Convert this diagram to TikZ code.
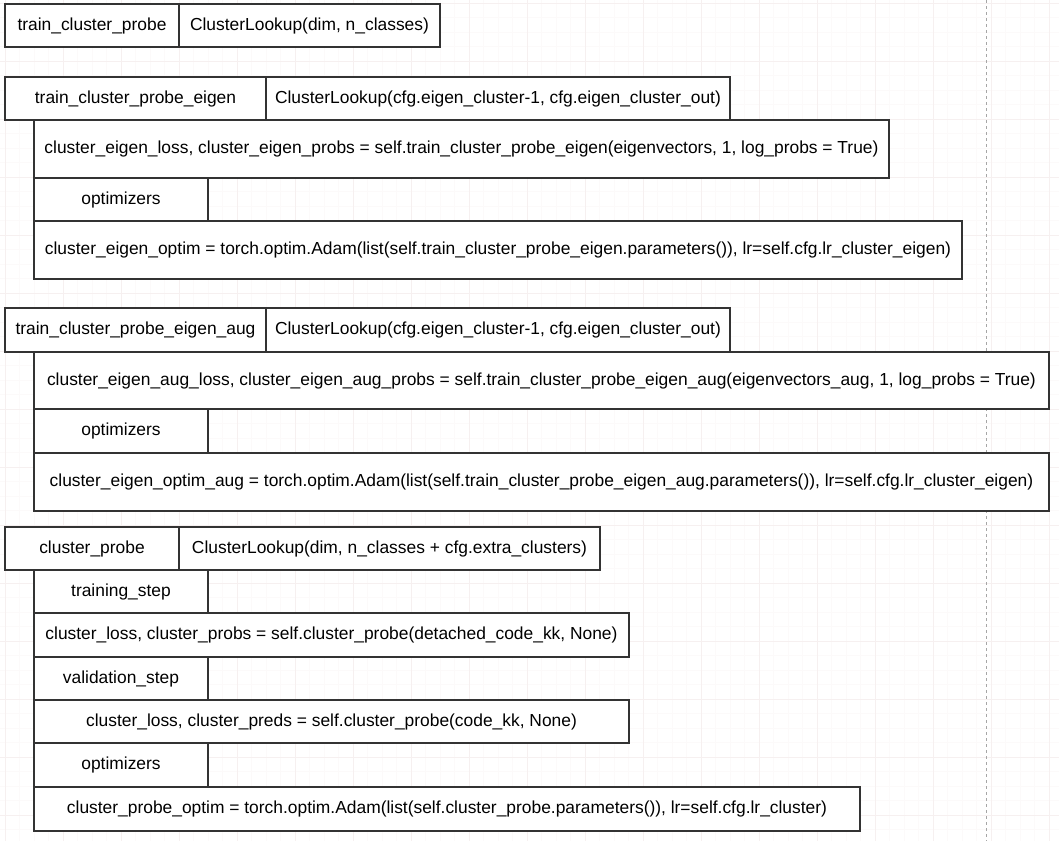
\documentclass[tikz,border=0pt]{standalone}
\usepackage{fontspec}
\setmainfont{Liberation Sans}
\definecolor{gridmajor}{RGB}{246,240,240}
\definecolor{gridminor}{RGB}{252,250,250}
\tikzset{
  cell/.style={draw=black!80, line width=1.5pt, anchor=north west, inner sep=0pt,
    outer sep=0pt, fill=white, font=\fontsize{17.4}{20}\selectfont},
}
\begin{document}
\begin{tikzpicture}[x=1pt,y=-1pt]
\useasboundingbox (0,0) rectangle (1059,841);
\fill[white] (0,0) rectangle (1059,841);
% background grid
\foreach \i in {0,...,73} {
  \draw[gridminor,line width=0.5pt] ({5+14.5*(\i-1)},0) -- ({5+14.5*(\i-1)},841);
}
\foreach \j in {0,...,58} {
  \draw[gridminor,line width=0.5pt] (0,{3+14.5*(\j-1)}) -- (1059,{3+14.5*(\j-1)});
}
\foreach \i in {0,...,18} {
  \draw[gridmajor,line width=0.6pt] ({5+58*\i},0) -- ({5+58*\i},841);
}
\foreach \j in {0,...,14} {
  \draw[gridmajor,line width=0.6pt] (0,{3+58*\j}) -- (1059,{3+58*\j});
}
\draw[gray!70,line width=0.8pt,dash pattern=on 3pt off 3pt] (986,0) -- (986,841);

% train_cluster_probe
\node[cell,minimum width=174pt,minimum height=43pt] (tcp) at (5,4) {train\_cluster\_probe};
\node[cell,minimum width=261pt,minimum height=43pt] (tcpval) at (tcp.north east) {ClusterLookup(dim, n\_classes)};

% train_cluster_probe_eigen
\node[cell,minimum width=261pt,minimum height=43pt] (tcpe) at (5,77) {train\_cluster\_probe\_eigen};
\node[cell,minimum width=464pt,minimum height=43pt] (tcpeval) at (tcpe.north east) {ClusterLookup(cfg.eigen\_cluster-1, cfg.eigen\_cluster\_out)};
\node[cell,minimum width=855pt,minimum height=58pt] (eloss) at (34,120) {cluster\_eigen\_loss, cluster\_eigen\_probs = self.train\_cluster\_probe\_eigen(eigenvectors, 1, log\_probs = True)};
\node[cell,minimum width=174pt,minimum height=43pt] (eopt) at (eloss.south west) {optimizers};
\node[cell,minimum width=928pt,minimum height=58pt] (eoptim) at (eopt.south west) {cluster\_eigen\_optim = torch.optim.Adam(list(self.train\_cluster\_probe\_eigen.parameters()), lr=self.cfg.lr\_cluster\_eigen)};

% train_cluster_probe_eigen_aug
\node[cell,minimum width=261pt,minimum height=44pt] (tcpea) at (5,308) {train\_cluster\_probe\_eigen\_aug};
\node[cell,minimum width=464pt,minimum height=44pt] (tcpeaval) at (tcpea.north east) {ClusterLookup(cfg.eigen\_cluster-1, cfg.eigen\_cluster\_out)};
\node[cell,minimum width=1015pt,minimum height=57pt] (ealoss) at (34,352) {cluster\_eigen\_aug\_loss, cluster\_eigen\_aug\_probs = self.train\_cluster\_probe\_eigen\_aug(eigenvectors\_aug, 1, log\_probs = True)};
\node[cell,minimum width=174pt,minimum height=44pt] (eaopt) at (ealoss.south west) {optimizers};
\node[cell,minimum width=1015pt,minimum height=58pt] (eaoptim) at (eaopt.south west) {cluster\_eigen\_optim\_aug = torch.optim.Adam(list(self.train\_cluster\_probe\_eigen\_aug.parameters()), lr=self.cfg.lr\_cluster\_eigen)};

% cluster_probe
\node[cell,minimum width=174pt,minimum height=43pt] (cp) at (5,527) {cluster\_probe};
\node[cell,minimum width=421pt,minimum height=43pt] (cpval) at (cp.north east) {ClusterLookup(dim, n\_classes + cfg.extra\_clusters)};
\node[cell,minimum width=174pt,minimum height=43pt] (tstep) at (34,570) {training\_step};
\node[cell,minimum width=595pt,minimum height=44pt] (closs) at (tstep.south west) {cluster\_loss, cluster\_probs = self.cluster\_probe(detached\_code\_kk, None)};
\node[cell,minimum width=174pt,minimum height=43pt] (vstep) at (closs.south west) {validation\_step};
\node[cell,minimum width=595pt,minimum height=43pt] (cpreds) at (vstep.south west) {cluster\_loss, cluster\_preds = self.cluster\_probe(code\_kk, None)};
\node[cell,minimum width=174pt,minimum height=44pt] (copt) at (cpreds.south west) {optimizers};
\node[cell,minimum width=826pt,minimum height=44pt] (coptim) at (copt.south west) {cluster\_probe\_optim = torch.optim.Adam(list(self.cluster\_probe.parameters()), lr=self.cfg.lr\_cluster)};
\end{tikzpicture}
\end{document}
